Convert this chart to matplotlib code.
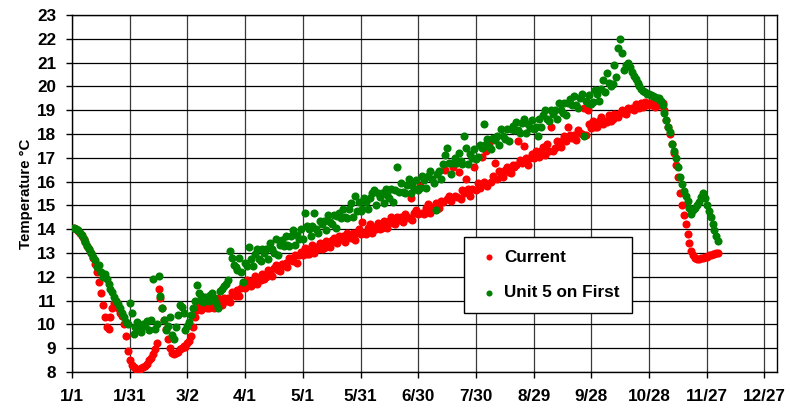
import matplotlib
matplotlib.use("Agg")
import matplotlib.pyplot as plt

plt.rcParams["font.family"] = ["Liberation Sans", "DejaVu Sans"]
plt.rcParams["font.weight"] = "bold"

# Day of year (1/1 = 0) for each daily reading
days = list(range(1, 337))

# "Current" temperatures (deg C), one reading per day
current = [
    14.05, 14.0, 13.92, 13.82, 13.7, 13.58, 13.45, 13.3, 13.15, 12.98,
    12.8, 12.55, 12.2, 11.8, 11.3, 10.8, 10.3, 9.9, 9.8, 10.3,
    10.7, 10.9, 11.0, 10.7, 10.5, 10.35, 10.0, 9.5, 8.9, 8.5,
    8.3, 8.2, 8.15, 8.1, 8.1, 8.15, 8.2, 8.25, 8.35, 8.5,
    8.6, 8.75, 8.95, 9.2, 11.5, 11.1, 10.7, 10.2, 9.8, 9.4,
    9.0, 8.8, 8.75, 8.8, 8.85, 8.95, 9.0, 9.1, 9.05, 9.2,
    9.3, 9.5, 9.9, 10.3, 10.6, 10.9, 10.6, 10.8, 10.95, 10.7,
    10.7, 11.0, 10.9, 10.7, 11.0, 11.1, 10.85, 10.8, 11.1, 11.0,
    11.1, 10.95, 11.35, 11.25, 11.2, 11.45, 11.2, 11.55, 11.7, 11.55,
    11.85, 11.65, 11.6, 11.85, 12.05, 11.7, 11.95, 11.85, 12.1, 11.9,
    12.0, 12.3, 12.2, 12.05, 12.35, 12.5, 12.3, 12.25, 12.55, 12.5,
    12.6, 12.4, 12.8, 12.7, 12.65, 12.9, 12.6, 12.9, 13.05, 12.9,
    13.2, 12.95, 12.95, 13.2, 13.35, 13.0, 13.25, 13.15, 13.4, 13.15,
    13.2, 13.5, 13.4, 13.25, 13.55, 13.65, 13.45, 13.4, 13.7, 13.6,
    13.7, 13.45, 13.85, 13.7, 13.65, 13.85, 13.55, 13.85, 14.0, 13.8,
    14.3, 13.85, 13.8, 14.05, 14.2, 13.85, 14.1, 14.0, 14.25, 14.0,
    14.05, 14.35, 14.25, 14.05, 14.35, 14.5, 14.25, 14.2, 14.5, 14.4,
    14.5, 14.3, 14.65, 14.5, 14.45, 15.3, 14.4, 14.7, 14.8, 14.65,
    15.8, 14.7, 14.65, 14.9, 15.05, 14.7, 14.95, 14.85, 15.1, 14.85,
    14.9, 15.2, 15.15, 16.5, 15.25, 15.4, 15.2, 16.6, 15.4, 15.35,
    16.4, 15.25, 15.65, 15.5, 16.1, 15.7, 15.4, 15.7, 16.6, 15.65,
    15.95, 15.75, 17.05, 16.0, 17.3, 15.8, 17.6, 16.0, 16.25, 16.8,
    16.1, 16.45, 16.35, 16.2, 16.5, 16.6, 16.4, 16.35, 16.7, 16.6,
    16.7, 17.7, 16.9, 16.8, 17.5, 17.0, 16.7, 17.0, 17.15, 17.0,
    17.3, 17.1, 17.05, 17.3, 17.45, 17.1, 17.6, 17.3, 18.3, 17.3,
    17.4, 17.7, 17.6, 17.45, 17.75, 17.9, 17.7, 18.3, 17.95, 17.85,
    17.95, 17.75, 18.15, 18.05, 18.0, 19.1, 17.95, 19.0, 18.4, 18.25,
    18.55, 18.3, 18.3, 18.55, 18.7, 18.4, 18.55, 18.5, 18.8, 18.55,
    18.65, 18.85, 18.8, 18.7, 18.9, 19.0, 18.9, 18.85, 19.1, 19.05,
    19.1, 19.0, 19.25, 19.15, 19.1, 19.3, 19.15, 19.35, 19.2, 19.3,
    19.2, 19.35, 19.15, 19.3, 19.2, 19.35, 19.3, 19.0, 18.6, 18.3,
    18.0, 17.6, 17.2, 16.7, 16.2, 15.5, 15.0, 14.6, 14.2, 13.8,
    13.4, 13.1, 12.9, 12.8, 12.75, 12.75, 12.8, 12.8, 12.85, 12.85,
    12.9, 12.9, 12.95, 12.95, 13.0, 13.0,
]

# "Unit 5 on First" temperatures (deg C), one reading per day
unit5 = [
    14.05, 14.02, 13.95, 13.85, 13.75, 13.6, 13.45, 13.3, 13.15, 13.0,
    12.85, 12.7, 12.4, 12.5, 12.2, 12.0, 12.1, 11.9, 11.7, 11.5,
    11.35, 11.15, 11.0, 10.85, 10.7, 10.5, 10.3, 10.1, 10.0, 10.9,
    10.5, 9.6, 9.9, 10.1, 9.8, 9.7, 10.0, 9.95, 10.15, 9.75,
    10.2, 11.9, 9.8, 10.0, 12.05, 11.2, 10.7, 10.2, 9.75, 9.95,
    10.3, 9.55, 9.4, 9.9, 10.4, 10.8, 10.75, 10.5, 9.75, 9.95,
    10.1, 10.4, 10.7, 11.0, 11.65, 11.3, 11.2, 10.95, 11.15, 11.1,
    11.0, 11.25, 11.3, 11.1, 10.9, 10.7, 11.4, 11.5, 11.6, 11.7,
    11.85, 13.1, 12.8, 12.5, 12.4, 12.3, 12.8, 12.2, 11.8, 12.6,
    12.45, 13.25, 12.75, 12.45, 12.95, 13.15, 12.75, 12.65, 13.15, 13.0,
    13.15, 12.75, 13.4, 13.15, 13.0, 13.6, 12.9, 13.35, 13.55, 13.3,
    13.7, 13.35, 13.3, 13.7, 13.95, 13.35, 13.75, 13.6, 14.0, 13.6,
    14.7, 14.15, 14.0, 13.7, 14.15, 14.7, 14.0, 13.85, 14.35, 14.2,
    14.35, 13.95, 14.6, 14.3, 14.2, 14.6, 14.05, 14.55, 14.7, 14.45,
    14.85, 14.5, 14.45, 14.85, 15.1, 14.5, 15.4, 14.75, 15.15, 14.75,
    14.85, 15.3, 15.15, 14.85, 15.3, 15.5, 15.65, 15.0, 15.5, 15.35,
    15.5, 15.1, 15.7, 15.45, 15.3, 15.7, 15.15, 15.65, 16.6, 15.55,
    15.95, 15.55, 15.5, 15.85, 16.1, 15.5, 15.85, 15.7, 16.05, 15.65,
    15.75, 16.25, 16.05, 15.75, 16.25, 16.45, 16.1, 15.95, 14.8, 16.3,
    16.45, 16.1, 16.75, 17.1, 17.4, 16.8, 16.3, 16.8, 17.0, 16.8,
    17.2, 16.85, 16.75, 17.9, 17.4, 16.75, 17.15, 17.0, 17.35, 16.95,
    17.05, 17.55, 17.4, 18.4, 17.6, 17.8, 17.45, 17.35, 17.85, 17.75,
    17.9, 17.55, 18.2, 17.9, 17.8, 18.2, 17.7, 18.2, 18.35, 18.15,
    18.5, 18.15, 18.05, 18.45, 18.65, 18.05, 18.4, 18.25, 18.6, 18.2,
    18.3, 17.9, 18.65, 18.3, 18.8, 19.0, 18.65, 18.55, 19.0, 18.85,
    19.0, 18.65, 19.3, 19.0, 18.9, 19.3, 18.8, 19.3, 19.45, 19.2,
    19.6, 19.2, 19.1, 19.5, 19.7, 17.9, 19.4, 19.3, 19.65, 19.25,
    19.35, 19.85, 19.7, 19.4, 19.9, 20.25, 19.75, 20.55, 20.15, 20.0,
    20.1, 20.9, 20.4, 21.6, 22.0, 21.4, 20.7, 20.9, 21.0, 20.8,
    20.6, 20.45, 20.3, 20.15, 20.0, 19.9, 19.8, 19.75, 19.7, 19.7,
    19.65, 19.6, 19.55, 19.5, 19.5, 19.4, 19.2, 18.9, 18.6, 18.3,
    18.1, 17.6, 17.3, 17.0, 16.6, 16.2, 15.9, 15.6, 15.4, 15.2,
    14.9, 14.65, 14.8, 14.9, 15.0, 15.15, 15.35, 15.5, 15.3, 15.0,
    14.75, 14.5, 14.2, 13.95, 13.7, 13.5,
]

tick_days = [0, 30, 60, 90, 120, 150, 180, 210, 240, 270, 300, 330, 360]
tick_labels = ["1/1", "1/31", "3/2", "4/1", "5/1", "5/31", "6/30",
               "7/30", "8/29", "9/28", "10/28", "11/27", "12/27"]

fig = plt.figure(figsize=(7.9, 4.09), dpi=100)
ax = fig.add_axes([72 / 790, 37 / 409, 705 / 790, 357 / 409])

ax.scatter(days, current, s=34, color="#ff0000", linewidths=0, label="Current", zorder=3)
ax.scatter(days, unit5, s=34, color="#008000", linewidths=0, label="Unit 5 on First", zorder=3)

ax.set_xlim(0, 366.5)
ax.set_ylim(8, 23)
ax.set_xticks(tick_days)
ax.set_xticklabels(tick_labels)
ax.set_yticks(range(8, 24))
ax.tick_params(axis="both", direction="out", length=4.5, width=1, labelsize=12.3)
ax.tick_params(axis="x", pad=8)
ax.tick_params(axis="y", pad=7)
ax.grid(True, axis="y", color="black", linewidth=0.9)
ax.grid(True, axis="x", color="#3a3a3a", linewidth=0.9)
ax.set_axisbelow(True)
for sp in ax.spines.values():
    sp.set_color("black")
    sp.set_linewidth(1)

ax.set_ylabel("Temperature \u00b0C", fontsize=10.8, fontweight="bold", labelpad=3)

leg = ax.legend(loc="upper left", bbox_to_anchor=(0.556, 0.378), fancybox=False,
                edgecolor="black", framealpha=1, markerscale=0.75, handletextpad=0.2,
                labelspacing=1.2, borderpad=0.75, prop={"size": 12.3, "weight": "bold"},
                handlelength=1.4, borderaxespad=0)
leg.get_frame().set_linewidth(1)

fig.savefig("out.png", dpi=100)
